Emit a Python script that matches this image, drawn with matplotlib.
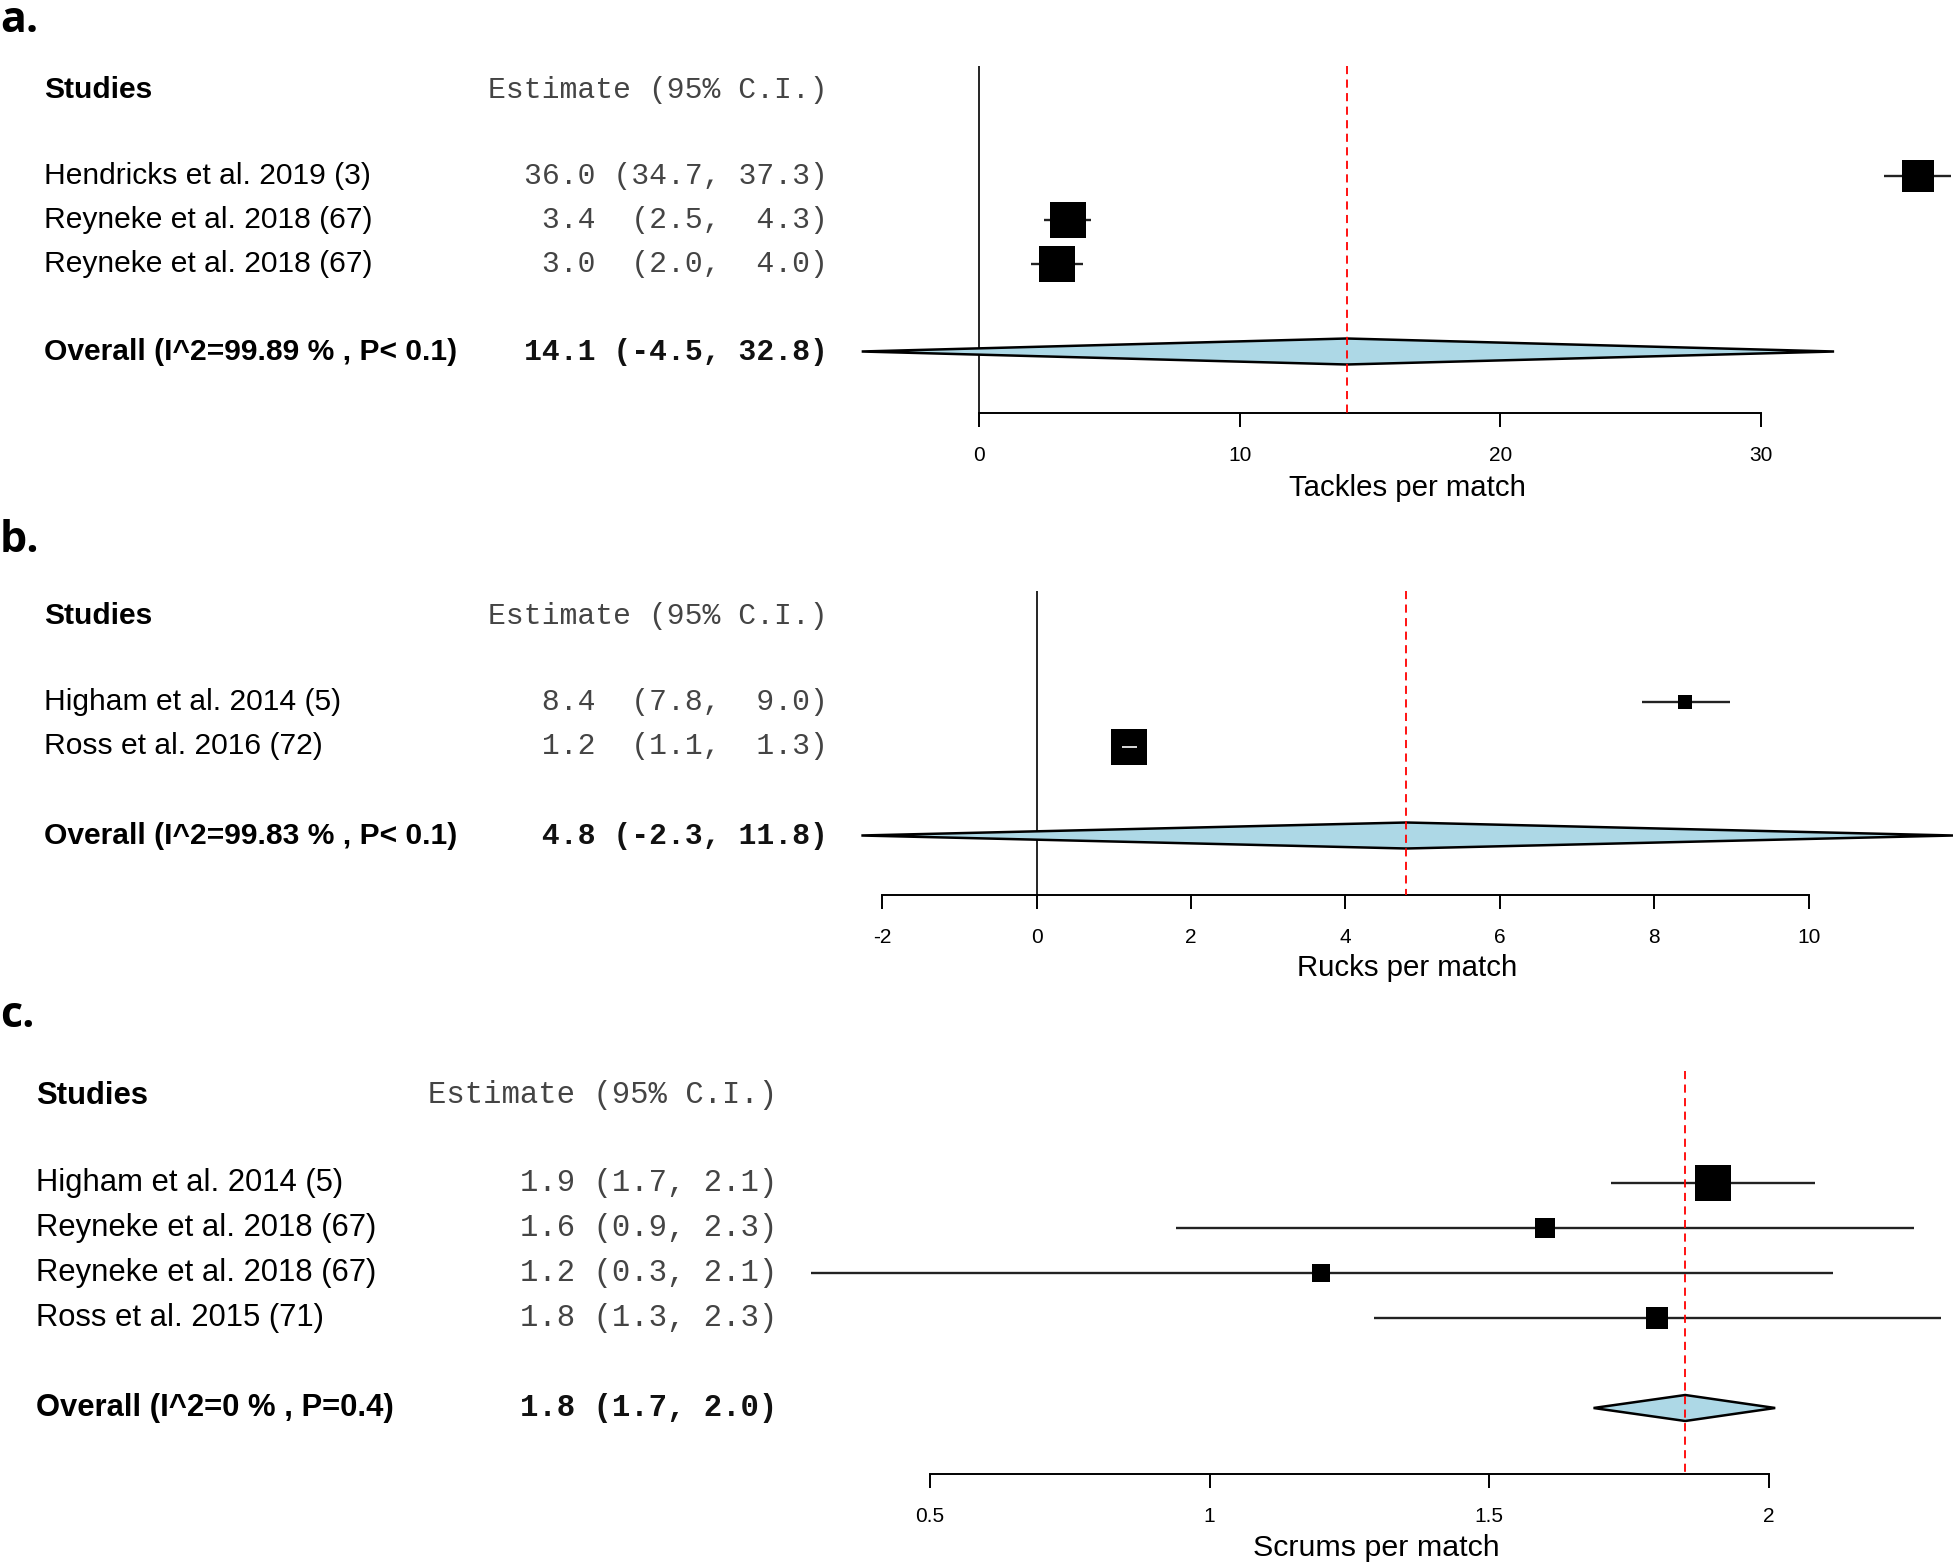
import matplotlib
matplotlib.use("Agg")
import matplotlib.pyplot as plt
from matplotlib.patches import Polygon

SANS = "Liberation Sans"
MONO = "Liberation Mono"

# ---- panel a: tackles
a_names = ["Hendricks et al. 2019 (3)", "Reyneke et al. 2018 (67)", "Reyneke et al. 2018 (67)"]
a_est = [36.0, 3.4, 3.0]
a_lo = [34.7, 2.5, 2.0]
a_hi = [37.3, 4.3, 4.0]
a_ann = ["36.0 (34.7, 37.3)", " 3.4  (2.5,  4.3)", " 3.0  (2.0,  4.0)"]
a_overall = [14.1, -4.5, 32.8]
a_ov_name = "Overall (I^2=99.89 % , P< 0.1)"
a_ov_ann = "14.1 (-4.5, 32.8)"
a_ticks = [0, 10, 20, 30]
a_xlabel = "Tackles per match"

# ---- panel b: rucks
b_names = ["Higham et al. 2014 (5)", "Ross et al. 2016 (72)"]
b_est = [8.4, 1.2]
b_lo = [7.84, 1.1]
b_hi = [8.98, 1.3]
b_ann = [" 8.4  (7.8,  9.0)", " 1.2  (1.1,  1.3)"]
b_overall = [4.79, -2.27, 11.87]
b_ov_name = "Overall (I^2=99.83 % , P< 0.1)"
b_ov_ann = " 4.8 (-2.3, 11.8)"
b_ticks = [-2, 0, 2, 4, 6, 8, 10]
b_xlabel = "Rucks per match"

# ---- panel c: scrums
c_names = ["Higham et al. 2014 (5)", "Reyneke et al. 2018 (67)",
           "Reyneke et al. 2018 (67)", "Ross et al. 2015 (71)"]
c_est = [1.9, 1.6, 1.2, 1.8]
c_lo = [1.718, 0.94, 0.287, 1.294]
c_hi = [2.083, 2.26, 2.115, 2.309]
c_ann = ["1.9 (1.7, 2.1)", "1.6 (0.9, 2.3)", "1.2 (0.3, 2.1)", "1.8 (1.3, 2.3)"]
c_overall = [1.851, 1.687, 2.012]
c_ov_name = "Overall (I^2=0 % , P=0.4)"
c_ov_ann = "1.8 (1.7, 2.0)"
c_ticks = [0.5, 1, 1.5, 2]
c_tick_labels = ["0.5", "1", "1.5", "2"]
c_xlabel = "Scrums per match"

W, H = 1960, 1568
fig = plt.figure(figsize=(W / 100, H / 100), dpi=100)

MONO_COL = "#444444"


def forest(band, header_px, row_px, x0_px, x0_val, ppu, names, est, lo, hi, ann,
           box_pt, ov, ov_name, ov_ann, ticks, tick_labels, xlabel, xlabel_y,
           xlabel_px, axis_px, name_px, ann_px, fs):
    ax = fig.add_axes([0, 1 - band[1] / H, 1, (band[1] - band[0]) / H])
    ax.set_xlim(x0_val - x0_px / ppu, x0_val + (W - x0_px) / ppu)
    row = lambda px: (px - header_px) / row_px
    ax.set_ylim(row(band[1]), row(band[0]))
    ax.patch.set_visible(False)
    for s in ["left", "right", "top"]:
        ax.spines[s].set_visible(False)
    ax.set_yticks([])

    k = len(names)
    rows = list(range(2, k + 2))
    ov_row = k + 3
    axis_row = row(axis_px)

    # axis
    ax.spines["bottom"].set_position(("data", axis_row))
    ax.spines["bottom"].set_bounds(ticks[0], ticks[-1])
    ax.spines["bottom"].set_linewidth(1.4)
    ax.set_xticks(ticks)
    ax.set_xticklabels(tick_labels, fontfamily=SANS, fontsize=15)
    ax.tick_params(axis="x", length=10, width=1.4, pad=14, colors="black")

    # reference lines
    xmin, xmax = ax.get_xlim()
    if ticks[0] <= 0 <= xmax:
        ax.vlines(0, -0.5, axis_row, colors="black", lw=1.2, zorder=1)
    ax.vlines(ov[0], -0.5, axis_row, colors="red", lw=1.3,
              linestyles=(0, (4.5, 3)), zorder=5)

    # studies
    ax.hlines(rows, lo, hi, colors="#222222", lw=1.7, zorder=2)
    for e, l, h, r, s in zip(est, lo, hi, rows, box_pt):
        ax.plot([e], [r], marker="s", ms=s, color="black", mew=0, zorder=3)
        half = s * 100 / 72 / 2 / ppu
        if h - l < 2 * half:
            ax.hlines(r, l, h, colors="white", lw=1.2, zorder=4)

    # summary diamond
    dh = 13.0 / row_px
    ax.add_patch(Polygon([(ov[1], ov_row), (ov[0], ov_row - dh),
                          (ov[2], ov_row), (ov[0], ov_row + dh)],
                         closed=True, facecolor="#ADD8E6", edgecolor="black",
                         lw=1.8, zorder=4))

    # text columns
    tr = ax.get_yaxis_transform()
    hdr = 2.5 / row_px
    ax.text(name_px / W, hdr, "Studies", transform=tr, ha="left", va="center",
            fontfamily=SANS, fontweight="bold", fontsize=fs)
    ax.text(ann_px / W, hdr, "Estimate (95% C.I.)", transform=tr, ha="right",
            va="center", fontfamily=MONO, fontsize=fs * 0.99, color=MONO_COL)
    for n, a, r in zip(names, ann, rows):
        ax.text(name_px / W, r, n, transform=tr, ha="left", va="center",
                fontfamily=SANS, fontsize=fs)
        ax.text(ann_px / W, r, a, transform=tr, ha="right", va="center",
                fontfamily=MONO, fontsize=fs * 0.99, color=MONO_COL)
    ax.text(name_px / W, ov_row, ov_name, transform=tr, ha="left", va="center",
            fontfamily=SANS, fontweight="bold", fontsize=fs)
    ax.text(ann_px / W, ov_row, ov_ann, transform=tr, ha="right", va="center",
            fontfamily=MONO, fontweight="bold", fontsize=fs * 0.99, color="#111111")
    ax.text(xlabel_px / W, row(xlabel_y), xlabel, transform=tr,
            ha="center", va="center", fontfamily=SANS, fontsize=fs * 0.98)
    return ax


forest((0, 520), 87.5, 44.0, 979, 0, 26.07, a_names, a_est, a_lo, a_hi, a_ann,
       [22.5, 26.5, 26.0], a_overall, a_ov_name, a_ov_ann, a_ticks,
       [str(t) for t in a_ticks], a_xlabel, 488, 1407, 413, 44, 828, 21.6)

forest((520, 1000), 613, 44.5, 1036.6, 0, 77.2, b_names, b_est, b_lo, b_hi, b_ann,
       [10.0, 26.5], b_overall, b_ov_name, b_ov_ann, b_ticks,
       [str(t) for t in b_ticks], b_xlabel, 968.5, 1407, 895, 44, 828, 21.6)

forest((1000, 1568), 1093, 45.0, 930, 0.5, 559.0, c_names, c_est, c_lo, c_hi, c_ann,
       [26.0, 14.0, 13.0, 16.5], c_overall, c_ov_name, c_ov_ann, c_ticks,
       c_tick_labels, c_xlabel, 1547.5, 1376, 1474, 36, 777, 22.3)

# panel letters
for lab, base_px in [("a.", 32), ("b.", 552), ("c.", 1027)]:
    fig.text(0.0, 1 - base_px / H, lab, ha="left", va="baseline",
             fontfamily="Open Sans", fontweight="bold", fontsize=31)

fig.savefig("out.png", dpi=100)
